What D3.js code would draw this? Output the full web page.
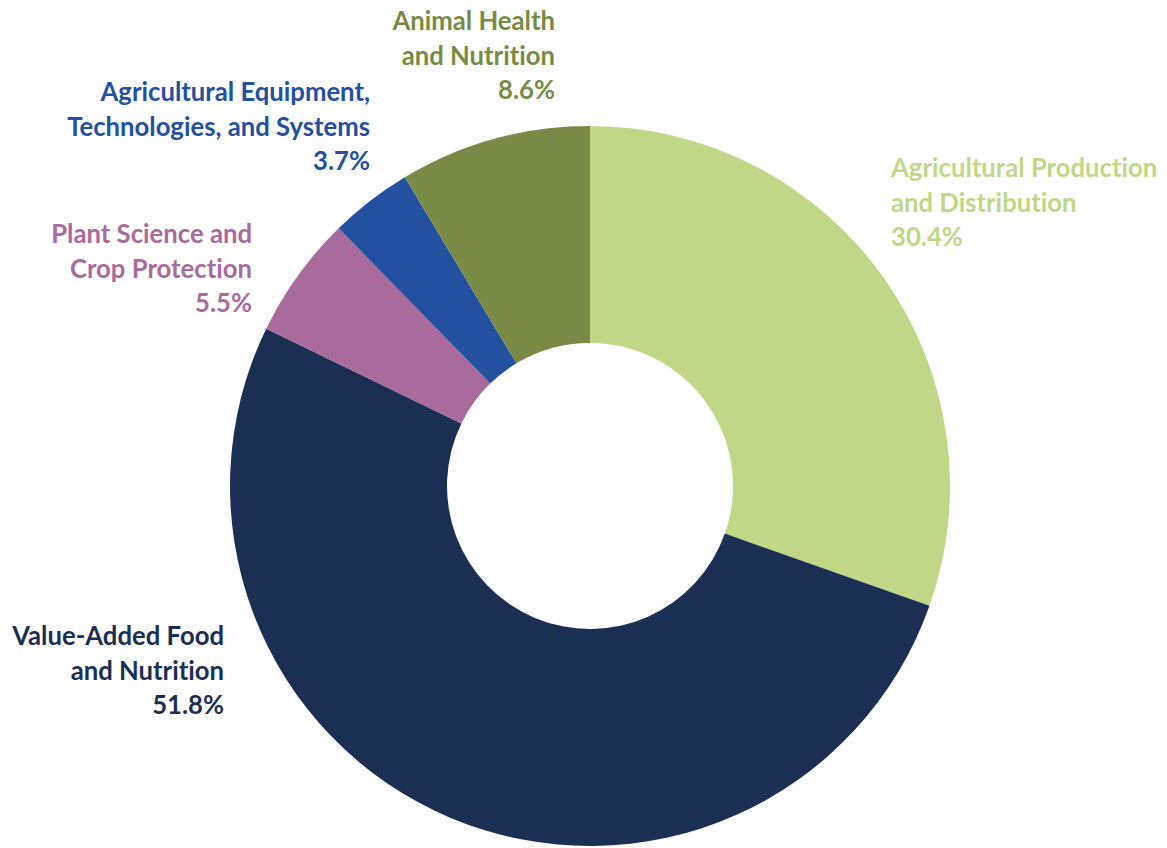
<!DOCTYPE html>
<html><head><meta charset="utf-8">
<script src="https://cdn.jsdelivr.net/npm/d3@7"></script>
<style>body{margin:0;background:#fff}svg{display:block}text{font-family:Lato,"Open Sans",sans-serif;font-weight:700;font-variant-ligatures:none;font-feature-settings:"liga" 0}</style>
</head><body><svg id="c" width="1167" height="848"></svg>
<script>
const categories = ["Agricultural Production and Distribution","Value-Added Food and Nutrition","Plant Science and Crop Protection","Agricultural Equipment, Technologies, and Systems","Animal Health and Nutrition"];
const values = [30.4, 51.8, 5.5, 3.7, 8.6];
const colors = ["#bfd786","#1b2e54","#a96b9c","#2351a0","#788a45"];
const labelLines = [
  ["Agricultural Production","and Distribution","30.4%"],
  ["Value-Added Food","and Nutrition","51.8%"],
  ["Plant Science and","Crop Protection","5.5%"],
  ["Agricultural Equipment,","Technologies, and Systems","3.7%"],
  ["Animal Health","and Nutrition","8.6%"]
];
const labelPos = [
  {x:891,y:177,anchor:"start"},
  {x:224,y:645,anchor:"end"},
  {x:252,y:243,anchor:"end"},
  {x:370,y:101,anchor:"end"},
  {x:555,y:30,anchor:"end"}
];
const svg = d3.select("#c");
const cx=590, cy=486, R=360, r=143;
const pie = d3.pie().sort(null).value(d=>d)(values);
const arc = d3.arc().innerRadius(r).outerRadius(R);
const g = svg.append("g").attr("transform",`translate(${cx},${cy})`);
g.selectAll("path").data(pie).join("path").attr("d",arc).attr("fill",(d,i)=>colors[i]);
labelLines.forEach((lines,i)=>{
  const p=labelPos[i];
  const t=svg.append("text").attr("x",p.x).attr("y",p.y).attr("text-anchor",p.anchor).attr("fill",colors[i]).attr("font-size",25.7);
  lines.forEach((l,j)=>t.append("tspan").attr("x",p.x).attr("y",p.y+j*34.5).text(l));
});
</script></body></html>
